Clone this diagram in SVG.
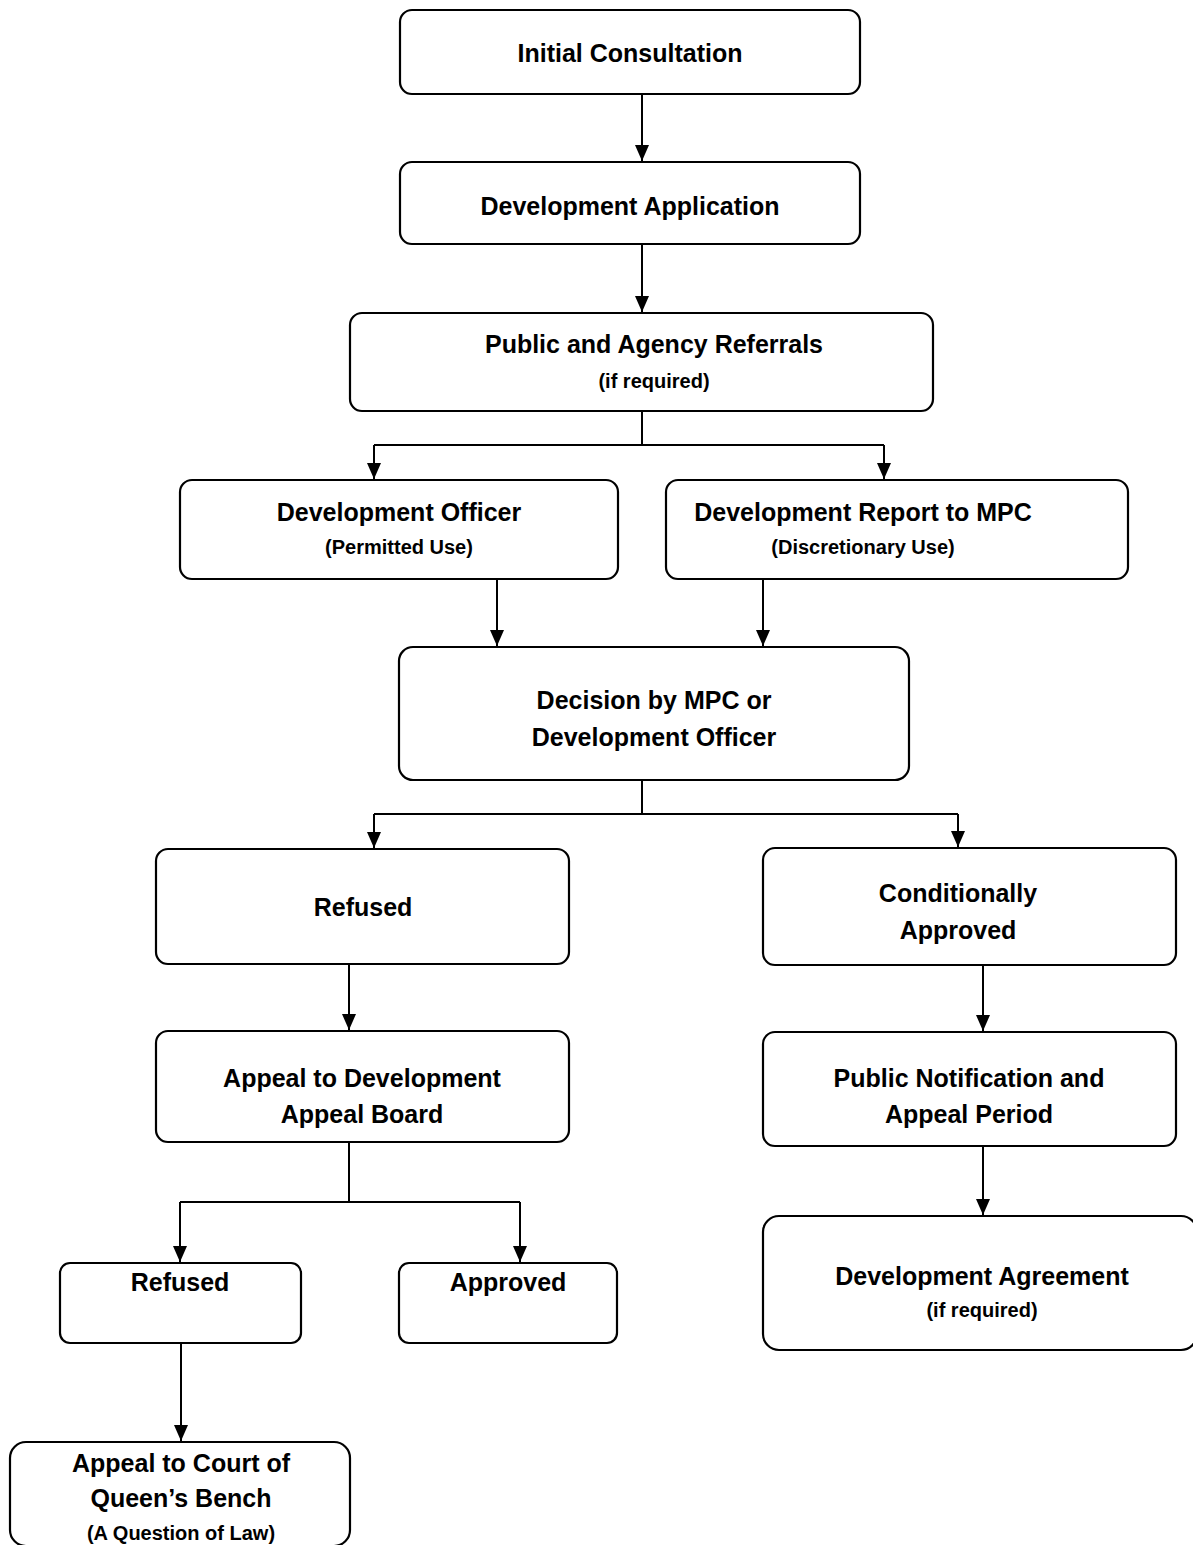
<svg xmlns="http://www.w3.org/2000/svg" width="1193" height="1545" viewBox="0 0 1193 1545">
<style>
.box{fill:#fff;stroke:#000;stroke-width:2.2}
.t{font-family:"Liberation Sans",Arial,sans-serif;font-weight:bold;font-size:25px;text-anchor:middle;fill:#000}
.s{font-family:"Liberation Sans",Arial,sans-serif;font-weight:bold;font-size:20px;text-anchor:middle;fill:#000}
.c{fill:none;stroke:#000;stroke-width:2}
</style>
<defs>
<marker id="ah" markerUnits="userSpaceOnUse" viewBox="0 0 16 14" markerWidth="16" markerHeight="14" refX="16" refY="7" orient="auto">
<path d="M0,0 L16,7 L0,14 z" fill="#000"/>
</marker>
</defs>
<rect width="1193" height="1545" fill="#fff"/>
<g id="connectors">
<path class="c" d="M642,94 V161" marker-end="url(#ah)"/>
<path class="c" d="M642,244 V312" marker-end="url(#ah)"/>
<path class="c" d="M642,411 V445 M374,445 H884"/>
<path class="c" d="M374,445 V479" marker-end="url(#ah)"/>
<path class="c" d="M884,445 V479" marker-end="url(#ah)"/>
<path class="c" d="M497,579 V646" marker-end="url(#ah)"/>
<path class="c" d="M763,579 V646" marker-end="url(#ah)"/>
<path class="c" d="M642,780 V814 M374,814 H958"/>
<path class="c" d="M374,814 V848" marker-end="url(#ah)"/>
<path class="c" d="M958,814 V847" marker-end="url(#ah)"/>
<path class="c" d="M349,964 V1030" marker-end="url(#ah)"/>
<path class="c" d="M983,965 V1031" marker-end="url(#ah)"/>
<path class="c" d="M349,1142 V1202 M180,1202 H520"/>
<path class="c" d="M180,1202 V1262" marker-end="url(#ah)"/>
<path class="c" d="M520,1202 V1262" marker-end="url(#ah)"/>
<path class="c" d="M983,1146 V1215" marker-end="url(#ah)"/>
<path class="c" d="M181,1343 V1441" marker-end="url(#ah)"/>
</g>
<g id="n1"><rect class="box" x="400" y="10" width="460" height="84" rx="12"/><text class="t" x="630" y="62">Initial Consultation</text></g>
<g id="n2"><rect class="box" x="400" y="162" width="460" height="82" rx="12"/><text class="t" x="630" y="215">Development Application</text></g>
<g id="n3"><rect class="box" x="350" y="313" width="583" height="98" rx="12"/><text class="t" x="654" y="353">Public and Agency Referrals</text><text class="s" x="654" y="388">(if required)</text></g>
<g id="n4"><rect class="box" x="180" y="480" width="438" height="99" rx="12"/><text class="t" x="399" y="521">Development Officer</text><text class="s" x="399" y="554">(Permitted Use)</text></g>
<g id="n5"><rect class="box" x="666" y="480" width="462" height="99" rx="12"/><text class="t" x="863" y="521">Development Report to MPC</text><text class="s" x="863" y="554">(Discretionary Use)</text></g>
<g id="n6"><rect class="box" x="399" y="647" width="510" height="133" rx="14"/><text class="t" x="654" y="709">Decision by MPC or</text><text class="t" x="654" y="746">Development Officer</text></g>
<g id="n7"><rect class="box" x="156" y="849" width="413" height="115" rx="12"/><text class="t" x="363" y="916">Refused</text></g>
<g id="n8"><rect class="box" x="763" y="848" width="413" height="117" rx="12"/><text class="t" x="958" y="902">Conditionally</text><text class="t" x="958" y="939">Approved</text></g>
<g id="n9"><rect class="box" x="156" y="1031" width="413" height="111" rx="12"/><text class="t" x="362" y="1087">Appeal to Development</text><text class="t" x="362" y="1123">Appeal Board</text></g>
<g id="n10"><rect class="box" x="763" y="1032" width="413" height="114" rx="12"/><text class="t" x="969" y="1087">Public Notification and</text><text class="t" x="969" y="1123">Appeal Period</text></g>
<g id="n11"><rect class="box" x="60" y="1263" width="241" height="80" rx="10"/><text class="t" x="180" y="1291">Refused</text></g>
<g id="n12"><rect class="box" x="399" y="1263" width="218" height="80" rx="10"/><text class="t" x="508" y="1291">Approved</text></g>
<g id="n13"><rect class="box" x="763" y="1216" width="434" height="134" rx="16"/><text class="t" x="982" y="1285">Development Agreement</text><text class="s" x="982" y="1317">(if required)</text></g>
<g id="n14"><rect class="box" x="10" y="1442" width="340" height="104" rx="16"/><text class="t" x="181" y="1472">Appeal to Court of</text><text class="t" x="181" y="1507">Queen’s Bench</text><text class="s" x="181" y="1540">(A Question of Law)</text></g>
</svg>
